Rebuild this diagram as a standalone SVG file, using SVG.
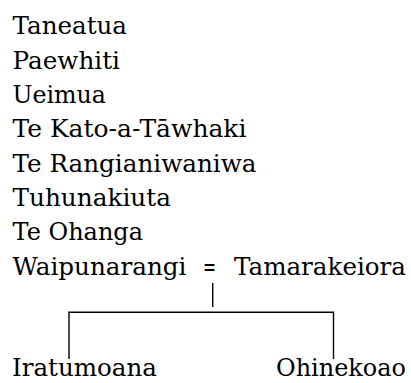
<svg xmlns="http://www.w3.org/2000/svg" width="411" height="383" viewBox="0 0 411 383">
<style>
text{font-family:"DejaVu Serif","Liberation Serif",serif;font-size:24.5px;fill:#000}
.ln{stroke:#000;stroke-width:1.4;fill:none}
</style>
<rect width="411" height="383" fill="#fff"/>
<g id="n-taneatua"><text x="12.5" y="34" textLength="114.5" lengthAdjust="spacingAndGlyphs">Taneatua</text></g>
<g id="n-paewhiti"><text x="12.5" y="68.5" textLength="107.5" lengthAdjust="spacingAndGlyphs">Paewhiti</text></g>
<g id="n-ueimua"><text x="12.5" y="103" textLength="93.5" lengthAdjust="spacingAndGlyphs">Ueimua</text></g>
<g id="n-tekato"><text x="12.5" y="137.3" textLength="234" lengthAdjust="spacingAndGlyphs">Te Kato-a-Tāwhaki</text></g>
<g id="n-terangi"><text x="12.5" y="171.7" textLength="244" lengthAdjust="spacingAndGlyphs">Te Rangianiwaniwa</text></g>
<g id="n-tuhunakiuta"><text x="12.5" y="206" textLength="158.5" lengthAdjust="spacingAndGlyphs">Tuhunakiuta</text></g>
<g id="n-teohanga"><text x="12.5" y="240.3" textLength="130.5" lengthAdjust="spacingAndGlyphs">Te Ohanga</text></g>
<g id="n-waipunarangi"><text x="12.5" y="274.7" textLength="174" lengthAdjust="spacingAndGlyphs">Waipunarangi</text></g>
<g id="n-eq"><text x="203" y="274.7" textLength="13" lengthAdjust="spacingAndGlyphs">=</text></g>
<g id="n-tamarakeiora"><text x="234" y="274.7" textLength="172" lengthAdjust="spacingAndGlyphs">Tamarakeiora</text></g>
<g id="n-iratumoana"><text x="12" y="376" textLength="145" lengthAdjust="spacingAndGlyphs">Iratumoana</text></g>
<g id="n-ohinekoao"><text x="276" y="376" textLength="130" lengthAdjust="spacingAndGlyphs">Ohinekoao</text></g>
<g id="connectors">
<path class="ln" d="M212.7 283V307"/>
<path class="ln" d="M69 359V312.3H333.5V359"/>
</g>
</svg>
